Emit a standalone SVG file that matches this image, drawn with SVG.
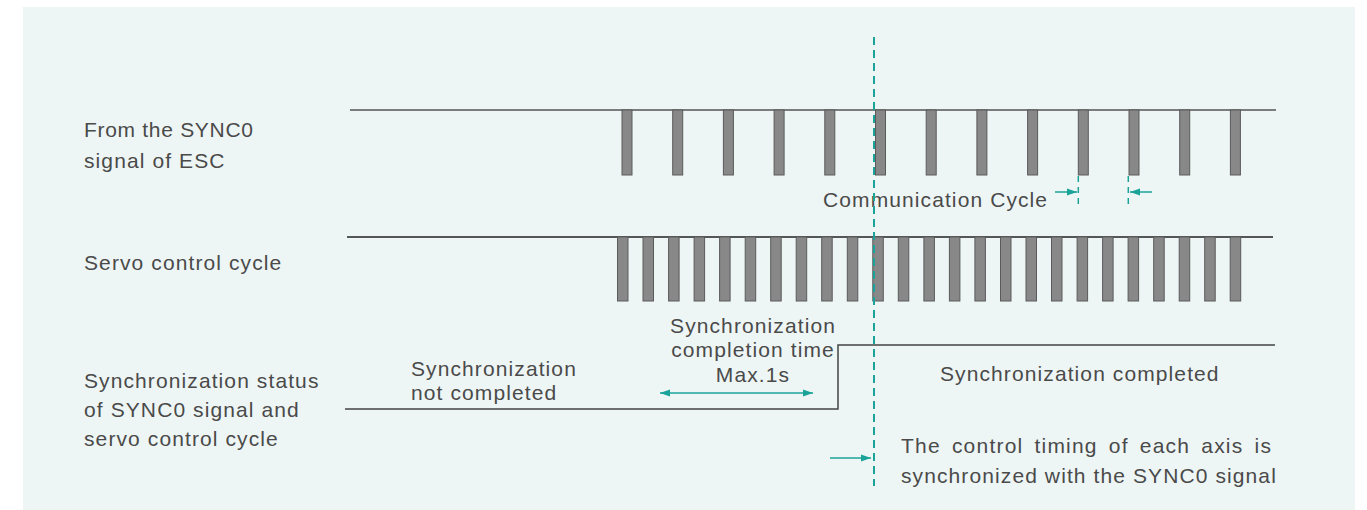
<svg xmlns="http://www.w3.org/2000/svg" width="1367" height="510" viewBox="0 0 1367 510">
<defs>
<style>
.t{font-family:"Liberation Sans",Arial,sans-serif;font-size:21px;fill:#4a4a4a;letter-spacing:1.1px}
.p{fill:#888888;stroke:#5a5a5a;stroke-width:1}
.sig{stroke:#555;stroke-width:1.5;fill:none}
.srv{stroke:#222;stroke-width:1.5;fill:none}
.tl{stroke:#1ba399;stroke-width:1.5;fill:none}
.dash{stroke:#1ba399;stroke-width:2;fill:none;stroke-dasharray:8 5}
</style>
<marker id="ah" viewBox="0 0 10 10" refX="10" refY="5" markerWidth="10" markerHeight="10" markerUnits="userSpaceOnUse" orient="auto-start-reverse">
<path d="M0,1.5 L10,5 L0,8.5 Z" fill="#1ba399"/>
</marker>
</defs>
<rect x="23" y="7" width="1332" height="503" fill="#eef6f5"/>

<g id="labels">
<text class="t" x="84" y="137" style="letter-spacing:0.7px">From the SYNC0</text>
<text class="t" x="84" y="168">signal of ESC</text>
<text class="t" x="84" y="270">Servo control cycle</text>
<text class="t" x="84" y="388">Synchronization status</text>
<text class="t" x="84" y="417">of SYNC0 signal and</text>
<text class="t" x="84" y="446">servo control cycle</text>
</g>

<g id="sync0-signal">
<line class="sig" x1="350" y1="110" x2="1276" y2="110"/>
<rect class="p" x="622" y="110" width="10" height="65"/>
<rect class="p" x="672.7" y="110" width="10" height="65"/>
<rect class="p" x="723.4" y="110" width="10" height="65"/>
<rect class="p" x="774.1" y="110" width="10" height="65"/>
<rect class="p" x="824.8" y="110" width="10" height="65"/>
<rect class="p" x="875.5" y="110" width="10" height="65"/>
<rect class="p" x="926.2" y="110" width="10" height="65"/>
<rect class="p" x="976.9" y="110" width="10" height="65"/>
<rect class="p" x="1027.6" y="110" width="10" height="65"/>
<rect class="p" x="1078.3" y="110" width="10" height="65"/>
<rect class="p" x="1129" y="110" width="10" height="65"/>
<rect class="p" x="1179.7" y="110" width="10" height="65"/>
<rect class="p" x="1230.4" y="110" width="10" height="65"/>
</g>

<g id="servo-cycle">
<line class="srv" x1="347" y1="237" x2="1273" y2="237"/>
<rect class="p" x="617.5" y="237" width="10.5" height="64"/>
<rect class="p" x="643" y="237" width="10.5" height="64"/>
<rect class="p" x="668.6" y="237" width="10.5" height="64"/>
<rect class="p" x="694.1" y="237" width="10.5" height="64"/>
<rect class="p" x="719.6" y="237" width="10.5" height="64"/>
<rect class="p" x="745.2" y="237" width="10.5" height="64"/>
<rect class="p" x="770.7" y="237" width="10.5" height="64"/>
<rect class="p" x="796.2" y="237" width="10.5" height="64"/>
<rect class="p" x="821.7" y="237" width="10.5" height="64"/>
<rect class="p" x="847.3" y="237" width="10.5" height="64"/>
<rect class="p" x="872.8" y="237" width="10.5" height="64"/>
<rect class="p" x="898.3" y="237" width="10.5" height="64"/>
<rect class="p" x="923.9" y="237" width="10.5" height="64"/>
<rect class="p" x="949.4" y="237" width="10.5" height="64"/>
<rect class="p" x="974.9" y="237" width="10.5" height="64"/>
<rect class="p" x="1000.5" y="237" width="10.5" height="64"/>
<rect class="p" x="1026" y="237" width="10.5" height="64"/>
<rect class="p" x="1051.5" y="237" width="10.5" height="64"/>
<rect class="p" x="1077.1" y="237" width="10.5" height="64"/>
<rect class="p" x="1102.6" y="237" width="10.5" height="64"/>
<rect class="p" x="1128.1" y="237" width="10.5" height="64"/>
<rect class="p" x="1153.7" y="237" width="10.5" height="64"/>
<rect class="p" x="1179.2" y="237" width="10.5" height="64"/>
<rect class="p" x="1204.7" y="237" width="10.5" height="64"/>
<rect class="p" x="1230.2" y="237" width="10.5" height="64"/>
</g>

<g id="sync-status">
<polyline class="srv" points="345,409 838,409 838,345 1275,345" style="stroke:#444"/>
<text class="t" x="411" y="376">Synchronization</text>
<text class="t" x="411" y="400">not completed</text>
<text class="t" x="940" y="381">Synchronization completed</text>
</g>

<g id="completion-time">
<text class="t" x="753" y="333" text-anchor="middle">Synchronization</text>
<text class="t" x="753" y="357" text-anchor="middle">completion time</text>
<text class="t" x="753" y="382" text-anchor="middle">Max.1s</text>
</g>

<g id="comm-cycle">
<text class="t" x="823" y="207">Communication Cycle</text>
</g>

<g id="sync-note">
<text class="t" x="901" y="453" textLength="371" lengthAdjust="spacing" style="word-spacing:4px">The control timing of each axis is</text>
<text class="t" x="901" y="483">synchronized with the SYNC0 signal</text>
</g>

<g id="connectors">
<line class="dash" x1="874" y1="37" x2="874" y2="486"/>
<line class="dash" x1="1078.3" y1="176" x2="1078.3" y2="207" style="stroke-width:1.5;stroke-dasharray:6 5"/>
<line class="dash" x1="1128.3" y1="176" x2="1128.3" y2="207" style="stroke-width:1.5;stroke-dasharray:6 5"/>
<line class="tl" x1="1055" y1="192" x2="1077" y2="192" marker-end="url(#ah)"/>
<line class="tl" x1="1152" y1="192" x2="1130" y2="192" marker-end="url(#ah)"/>
<line class="tl" x1="660" y1="393" x2="813" y2="393" marker-start="url(#ah)" marker-end="url(#ah)"/>
<line class="tl" x1="830" y1="458" x2="871" y2="458" marker-end="url(#ah)"/>
</g>
</svg>
